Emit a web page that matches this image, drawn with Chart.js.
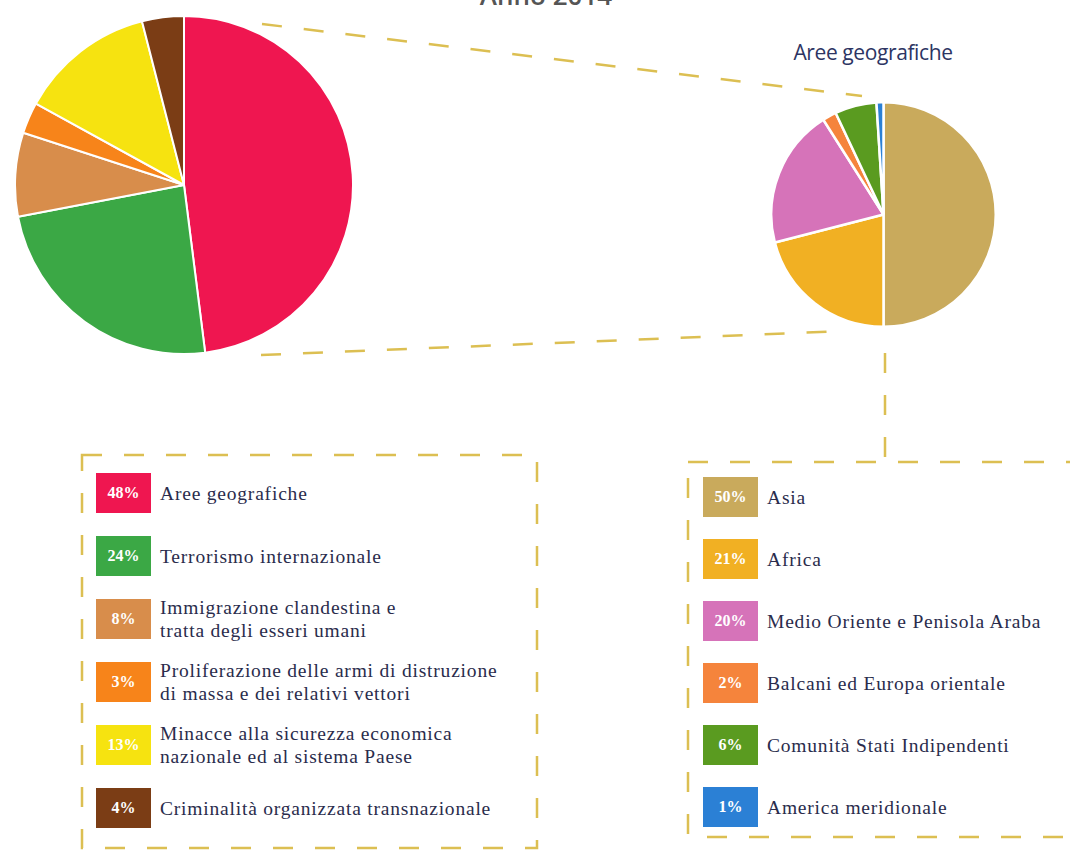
<!DOCTYPE html>
<html>
<head>
<meta charset="utf-8">
<script src="https://cdn.jsdelivr.net/npm/chart.js@4/dist/chart.umd.min.js"></script>
<style>
  html, body { margin:0; padding:0; background:#ffffff; }
  body { width:1070px; height:853px; position:relative; overflow:hidden; }
  #deco { position:absolute; left:0; top:0; width:1070px; height:853px; pointer-events:none; }
  .pie { position:absolute; }
  #geoTitle { position:absolute; left:763px; width:220px; top:38px; text-align:center;
    font-family:"Open Sans", sans-serif; font-size:21px; color:#2d3563; letter-spacing:-0.4px; }
  .legend { position:absolute; }
  .row { position:absolute; left:0; display:flex; align-items:center; height:40px; }
  .sw { width:55px; height:40px; color:#fff; font-family:"Liberation Serif", serif; font-size:16px; font-weight:bold;
    display:flex; align-items:center; justify-content:center; flex:none; }
  .txt { margin-left:9px; font-family:"Liberation Serif", serif; font-size:19.5px; letter-spacing:0.8px; line-height:23px; color:#2a2c4c; white-space:nowrap; }
</style>
</head>
<body>
<svg id="deco" width="1070" height="853" xmlns="http://www.w3.org/2000/svg">
  <text x="546" y="5" text-anchor="middle" font-family="Open Sans, sans-serif" font-size="26" font-weight="600" fill="#555">Anno 2014</text>
  <g stroke="#dcbf52" stroke-width="2.5" fill="none" stroke-dasharray="20 22">
    <line x1="262" y1="24" x2="862" y2="96"/>
    <line x1="261" y1="355" x2="846" y2="331"/>
    <line x1="885" y1="353" x2="885" y2="461"/>
    <rect x="82" y="455" width="455" height="393"/>
    <rect x="688" y="462" width="420" height="375"/>
  </g>
</svg>

<canvas id="mainPie" class="pie" width="340" height="340" style="left:13.5px; top:15px; width:340px; height:340px;"></canvas>
<div id="geoTitle">Aree geografiche</div>
<canvas id="geoPie" class="pie" width="227" height="227" style="left:770px; top:100.5px; width:227px; height:227px;"></canvas>

<div id="legMain" class="legend" style="left:96px; top:473px;"></div>
<div id="legGeo" class="legend" style="left:703px; top:477px;"></div>

<script>
// ---- data ----
const mainLabels = [
  ["Aree geografiche"],
  ["Terrorismo internazionale"],
  ["Immigrazione clandestina e", "tratta degli esseri umani"],
  ["Proliferazione delle armi di distruzione", "di massa e dei relativi vettori"],
  ["Minacce alla sicurezza economica", "nazionale ed al sistema Paese"],
  ["Criminalità organizzata transnazionale"]
];
const mainValues = [48, 24, 8, 3, 13, 4];

const geoLabels = [
  ["Asia"],
  ["Africa"],
  ["Medio Oriente e Penisola Araba"],
  ["Balcani ed Europa orientale"],
  ["Comunità Stati Indipendenti"],
  ["America meridionale"]
];
const geoValues = [50, 21, 20, 2, 6, 1];

// ---- styles ----
const mainColors = ["#ef1650", "#3ba845", "#d88d4b", "#f7841a", "#f6e310", "#7b3d15"];
const geoColors  = ["#c9aa5c", "#f1b023", "#d673b9", "#f5843c", "#5a9b20", "#2b80d5"];

function makePie(id, labels, values, colors, bw) {
  return new Chart(document.getElementById(id), {
    type: 'pie',
    data: {
      labels: labels,
      datasets: [{ data: values, backgroundColor: colors, borderColor: '#ffffff', borderWidth: bw }]
    },
    options: {
      responsive: false,
      animation: false,
      layout: { padding: 0 },
      plugins: { legend: { display: false }, tooltip: { enabled: false }, title: { display: false } }
    }
  });
}
makePie('mainPie', mainLabels, mainValues, mainColors, 2);
makePie('geoPie', geoLabels, geoValues, geoColors, 2.5);

function buildLegend(id, labels, values, colors, pitch) {
  const el = document.getElementById(id);
  labels.forEach((lines, i) => {
    const row = document.createElement('div');
    row.className = 'row';
    row.style.top = (i * pitch) + 'px';
    const sw = document.createElement('div');
    sw.className = 'sw';
    sw.style.background = colors[i];
    sw.textContent = values[i] + '%';
    const t = document.createElement('div');
    t.className = 'txt';
    t.innerHTML = lines.map(s => s.replace(/&/g,'&amp;').replace(/</g,'&lt;')).join('<br>');
    row.appendChild(sw);
    row.appendChild(t);
    el.appendChild(row);
  });
}
buildLegend('legMain', mainLabels, mainValues, mainColors, 63);
buildLegend('legGeo', geoLabels, geoValues, geoColors, 62);
</script>
</body>
</html>
